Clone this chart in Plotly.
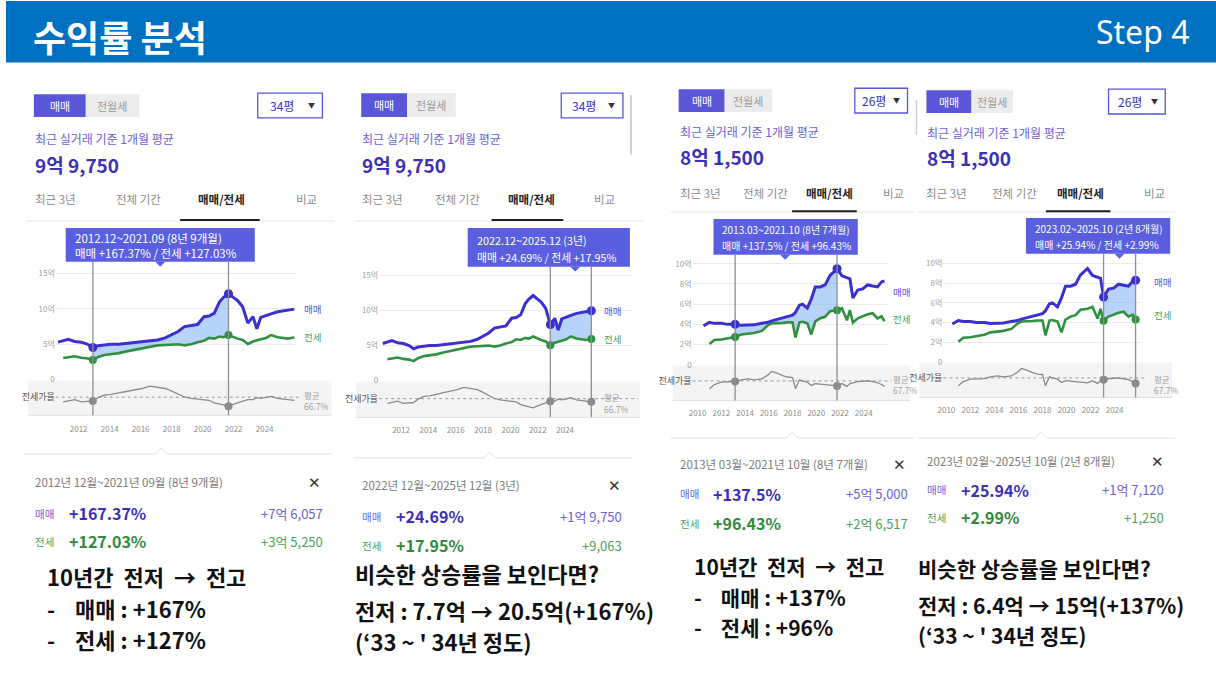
import plotly.graph_objects as go

W, H = 1216, 684
KR = "Noto Sans CJK KR"

# ---------------- data ----------------
dates_34 = ["2010-09", "2011-01", "2011-05", "2011-10", "2012-03", "2012-08", "2012-12", "2013-04",
            "2013-09", "2014-02", "2014-08", "2015-02", "2015-08", "2016-02", "2016-08", "2017-02",
            "2017-08", "2018-01", "2018-06", "2018-11", "2019-04", "2019-09", "2020-02", "2020-06",
            "2020-10", "2021-02", "2021-05", "2021-09", "2022-01", "2022-04", "2022-08", "2022-12",
            "2023-04", "2023-07", "2023-10", "2024-02", "2024-06", "2024-11", "2025-03", "2025-07",
            "2025-12"]
sale_34 = [5.3, 5.5, 5.7, 5.4, 5.3, 5.0, 4.54, 4.8, 4.9, 5.0, 5.0, 5.1, 5.3, 5.3, 5.5, 5.6,
           5.9, 6.3, 6.8, 7.5, 7.6, 7.8, 8.9, 9.0, 9.4, 11.0, 11.6, 12.15, 11.6, 11.2, 10.3, 8.0,
           8.9, 7.2, 8.8, 9.0, 9.3, 9.6, 9.7, 9.8, 9.975]
jeonse_34 = [None, 3.05, 3.2, 3.3, 3.1, 3.0, 2.78, 3.2, 3.5, 3.6, 3.75, 4.0, 4.2, 4.5, 4.7, 4.85,
             4.9, 5.0, 5.0, 4.85, 5.0, 5.3, 5.5, 5.9, 5.8, 6.1, 6.0, 6.3, 6.0, 5.8, 5.6, 5.05,
             5.4, 5.5, 5.7, 5.9, 6.3, 6.0, 5.9, 5.8, 5.95]
ratio_34 = [None, 59.6, 61, 63, 59.6, 60, 61, 66, 70, 71, 73, 75, 77, 80, 83.5, 82,
            80, 76, 72, 67, 65, 64, 63, 62, 58, 56, 54, 53, 56, 58, 61, 63,
            63, 66, 65, 66, 68, 65, 64, 63, 62]

dates_26 = ["2010-01", "2010-07", "2011-01", "2011-06", "2012-01", "2012-07", "2013-03", "2013-09",
            "2014-04", "2014-10", "2015-06", "2015-12", "2016-04", "2016-10", "2017-03", "2017-08",
            "2018-01", "2018-04", "2018-08", "2018-11", "2019-04", "2019-08", "2019-12", "2020-05",
            "2020-10", "2021-03", "2021-10", "2022-03", "2022-08", "2022-11", "2023-02", "2023-07",
            "2023-12", "2024-05", "2024-10", "2025-03", "2025-07", "2025-10"]
sale_26 = [None, 3.85, 4.2, 4.1, 4.1, 4.0, 4.0, 3.9, 3.95, 3.95, 4.1, 4.2, 4.35, 4.5, 4.6, 4.7,
           4.9, 5.2, 5.9, 6.0, 5.6, 6.5, 7.7, 7.7, 7.9, 8.85, 9.5, 8.8, 8.6, 8.5, 6.6, 7.4,
           7.5, 7.9, 7.8, 7.7, 8.2, 8.31]
jeonse_26 = [None, None, 2.05, 2.45, 2.5, 2.6, 2.75, 3.0, 3.1, 3.15, 3.35, 3.9, 4.1, 4.1, 4.15, 4.2,
             4.2, 2.7, 4.2, 4.25, 4.1, 3.0, 4.3, 4.6, 4.75, 5.3, 5.4, 5.6, 4.4, 5.4, 4.18, 4.6,
             4.8, 5.0, 5.1, 4.6, 4.8, 4.31]
ratio_26 = [None, None, 51, 60, 65, 65, 66.4, 70, 72, 70, 72, 80, 88, 84, 79, 76,
            75, 51, 70, 68, 65, 58, 62, 61, 60, 59, 57, 62, 56, 62, 64, 66,
            67, 68, 66, 64, 60, 56]

# tick labels
years_34 = [2012, 2014, 2016, 2018, 2020, 2022, 2024]
years_26 = [2010, 2012, 2014, 2016, 2018, 2020, 2022, 2024]

# panel texts
size_labels = ["34평", "34평", "26평", "26평"]
recent_prices = ["9억 9,750", "9억 9,750", "8억 1,500", "8억 1,500"]
period_starts = ["2012-12", "2022-12", "2013-03", "2023-02"]
period_ends = ["2021-09", "2025-12", "2021-10", "2025-10"]
tip_titles = ["2012.12~2021.09 (8년 9개월)", "2022.12~2025.12 (3년)",
              "2013.03~2021.10 (8년 7개월)", "2023.02~2025.10 (2년 8개월)"]
sale_pct = ["+167.37%", "+24.69%", "+137.5%", "+25.94%"]
jeonse_pct = ["+127.03%", "+17.95%", "+96.43%", "+2.99%"]
sum_titles = ["2012년 12월~2021년 09월 (8년 9개월)", "2022년 12월~2025년 12월 (3년)",
              "2013년 03월~2021년 10월 (8년 7개월)", "2023년 02월~2025년 10월 (2년 8개월)"]
sale_gain = ["+7억 6,057", "+1억 9,750", "+5억 5,000", "+1억 7,120"]
jeonse_gain = ["+3억 5,250", "+9,063", "+2억 6,517", "+1,250"]
avg_ratio = [66.7, 66.7, 67.7, 67.7]

NB = "\u00a0"
SP = NB + " "
notes = [
    ["10년간" + SP + "전저" + SP + "→" + SP + "전고", "-" + NB * 4 + "매매 : +167%", "-" + NB * 4 + "전세 : +127%"],
    ["비슷한 상승률을 보인다면?", "전저 : 7.7억 → 20.5억(+167%)", "(‘33 ~ ' 34년 정도)"],
    ["10년간" + SP + "전저" + SP + "→" + SP + "전고", "-" + NB * 4 + "매매 : +137%", "-" + NB * 4 + "전세 : +96%"],
    ["비슷한 상승률을 보인다면?", "전저 : 6.4억 → 15억(+137%)", "(‘33 ~ ' 34년 정도)"],
]

series = {"34": (dates_34, sale_34, jeonse_34, ratio_34, years_34),
          "26": (dates_26, sale_26, jeonse_26, ratio_26, years_26)}

# ---------------- geometry (pixels) ----------------
P = [
    dict(ds="34", left=28, btn=(28, 94, 80, 117, 134), dd=(253, 93, 318, 118),
         sub_y=139, val_y=165, tab_y=200, tabs=(28, 110, 192, 290), ul=(175, 255, 221), sep=(20, 330),
         dom_x=(50, 292), price_y=(382, 270), prange=[0, 15.7], ptick=[0, 5, 10, 15],
         ratio_y=(383, 418), rrange=[39, 92], xr=["2010-07-10", "2026-01-22"],
         xlab_stand=8, tip=(60, 229, 250, 263, 155), tipfs=11.5,
         lab_x=298, lab_sale=311, lab_jeonse=339, lab_avg=(397, 409),
         sline=(17, 327, 457, 156), sh=485, X=310, r1=517, r2=545, gx=320,
         note_pos=[(40, 580), (40, 612), (40, 644)], note_fs=22),
    dict(ds="34", left=357, btn=(357, 93, 403, 117, 452), dd=(558, 93, 620, 118),
         sub_y=139, val_y=165, tab_y=200, tabs=(357, 430, 503, 590), ul=(488, 560, 221), sep=(350, 640),
         dom_x=(375, 630), price_y=(383, 270), prange=[0, 15.98], ptick=[0, 5, 10, 15],
         ratio_y=(384, 420), rrange=[39, 92], xr=["2010-05-26", "2028-12-15"],
         xlab_stand=7, tip=(464, 229, 627, 268, 572), tipfs=10.8,
         lab_x=600, lab_sale=313, lab_jeonse=341, lab_avg=(400, 412),
         sline=(350, 630, 461, 486), sh=488, X=612, r1=520, r2=549, gx=620,
         note_pos=[(350, 577), (350, 614), (350, 646)], note_fs=22),
    dict(ds="26", left=676, btn=(676, 89, 722, 112, 770), dd=(853, 88, 906, 113),
         sub_y=132, val_y=157, tab_y=194, tabs=(676, 740, 803, 880), ul=(790, 855, 212), sep=(668, 912),
         dom_x=(690, 886), price_y=(367, 258), prange=[0, 10.69], ptick=[0, 2, 4, 6, 8, 10],
         ratio_y=(368, 403), rrange=[26, 100], xr=["2009-07-31", "2026-01-05"],
         xlab_stand=7, tip=(711, 220, 856, 256, 783), tipfs=10,
         lab_x=890, lab_sale=294, lab_jeonse=321, lab_avg=(381, 392),
         sline=(668, 912, 441, 790), sh=467, X=898, r1=497, r2=527, gx=907,
         note_pos=[(690, 570), (690, 601), (690, 632)], note_fs=21),
    dict(ds="26", left=925, btn=(925, 90, 970, 113, 1012), dd=(1108, 89, 1165, 114),
         sub_y=133, val_y=158, tab_y=194, tabs=(924, 990, 1055, 1143), ul=(1045, 1110, 212), sep=(916, 1175),
         dom_x=(942, 1142), price_y=(364, 256), prange=[0, 10.9], ptick=[0, 2, 4, 6, 8, 10],
         ratio_y=(365, 400), rrange=[26, 100], xr=["2009-10-01", "2026-04-25"],
         xlab_stand=7, tip=(1025, 219, 1170, 255, 1119), tipfs=10,
         lab_x=1153, lab_sale=283, lab_jeonse=317, lab_avg=(381, 392),
         sline=(916, 1175, 441, 1040), sh=464, X=1157, r1=493, r2=521, gx=1165,
         note_pos=[(916, 572), (916, 609), (916, 640)], note_fs=21),
]

SALE = "#3b2fd0"
JEON = "#2f9140"
GRAYL = "#8a8a8a"
TIP = "#5a5fe2"
PURP_T = "#6a62d8"
PURP_B = "#3b30b8"
GREEN_T = "#4aa35c"
GREEN_B = "#2f8a40"

fig = go.Figure()


def px_x(x):
    return x / W


def px_y(y):
    return 1 - y / H


def txt(x, y, s, size, color, bold=False, anchor="left", family=KR):
    fig.add_annotation(x=px_x(x), y=px_y(y), xref="paper", yref="paper",
                       text=("<b>%s</b>" % s if bold else s), showarrow=False,
                       xanchor=anchor, yanchor="middle", borderpad=0, align="left",
                       font=dict(size=size, color=color, family=family))


def rect(x0, y0, x1, y1, fill, line=None, lw=0, layer="below"):
    fig.add_shape(type="rect", xref="paper", yref="paper",
                  x0=px_x(x0), x1=px_x(x1), y0=px_y(y0), y1=px_y(y1),
                  fillcolor=fill, line=dict(color=line or fill, width=lw), layer=layer)


def hline(x0, x1, y, color, w=1, dash="solid", layer="below"):
    fig.add_shape(type="line", xref="paper", yref="paper", x0=px_x(x0), x1=px_x(x1),
                  y0=px_y(y), y1=px_y(y), line=dict(color=color, width=w, dash=dash), layer=layer)


# ---------------- header ----------------
rect(0, 0, W, 62, "#0070c0")
txt(26, 35, "수익률 분석", 36, "white", bold=True)
txt(1190, 31, "Step 4", 32, "white", anchor="right", family="Noto Sans")

layout_axes = {}

for k, p in enumerate(P):
    dates, sale, jeonse, ratio, years = series[p["ds"]]
    xa1, xa2 = 2 * k + 1, 2 * k + 2
    xn1 = "x" if xa1 == 1 else "x%d" % xa1
    yn1 = "y" if xa1 == 1 else "y%d" % xa1
    xn2, yn2 = "x%d" % xa2, "y%d" % xa2
    k1 = "" if xa1 == 1 else str(xa1)
    k2 = str(xa2)
    dx = [px_x(p["dom_x"][0]), px_x(p["dom_x"][1])]
    tipfs = p["tipfs"]

    layout_axes["xaxis" + k1] = dict(domain=dx, type="date", range=p["xr"], showticklabels=False,
                                     showgrid=False, zeroline=False, showline=False, anchor=yn1)
    layout_axes["yaxis" + k1] = dict(domain=[px_y(p["price_y"][0]), px_y(p["price_y"][1])],
                                     range=p["prange"], tickvals=p["ptick"],
                                     ticktext=[("%d억" % v if v else "0") for v in p["ptick"]],
                                     showgrid=True, gridcolor="#ebebeb", zeroline=False,
                                     tickfont=dict(size=8, color="#a0a0a0", family=KR), anchor=xn1,
                                     ticks="", showline=False)
    layout_axes["xaxis" + k2] = dict(domain=dx, type="date", range=p["xr"],
                                     tickvals=["%d-01-01" % y for y in years],
                                     ticktext=[str(y) for y in years], showgrid=False, zeroline=False,
                                     showline=False, ticks="", ticklabelstandoff=p["xlab_stand"],
                                     tickfont=dict(size=8, color="#8c8c8c", family=KR), anchor=yn2)
    layout_axes["yaxis" + k2] = dict(domain=[px_y(p["ratio_y"][1]), px_y(p["ratio_y"][0])],
                                     range=p["rrange"], tickvals=[avg_ratio[k]], ticktext=["전세가율"],
                                     showgrid=False, zeroline=False, ticks="",
                                     tickfont=dict(size=9, color="#555", family=KR), anchor=xn2)

    # ---- header widgets ----
    b = p["btn"]
    rect(b[2], b[1], b[4], b[3], "#ececec")
    rect(b[0], b[1], b[2], b[3], "#5b56d8")
    txt((b[0] + b[2]) / 2, (b[1] + b[3]) / 2, "매매", 11, "white", anchor="center")
    txt((b[2] + b[4]) / 2, (b[1] + b[3]) / 2, "전월세", 11, "#9a9a9a", anchor="center")
    d = p["dd"]
    rect(d[0], d[1], d[2], d[3], "white", line="#5b56d8", lw=1.3)
    txt(d[0] + (d[2] - d[0]) * 0.37, (d[1] + d[3]) / 2, size_labels[k], 12, PURP_B, anchor="center")
    txt(d[2] - 11, (d[1] + d[3]) / 2 - 1, "▼", 7, "#333", anchor="center")
    txt(p["left"], p["sub_y"], "최근 실거래 기준 1개월 평균", 12, PURP_T)
    txt(p["left"], p["val_y"], recent_prices[k], 19, PURP_B, bold=True)
    tabs = ["최근 3년", "전체 기간", "매매/전세", "비교"]
    for j, t in enumerate(tabs):
        if j == 2:
            txt(p["tabs"][j], p["tab_y"], t, 11.5, "#222", bold=True)
        else:
            txt(p["tabs"][j], p["tab_y"], t, 11.5, "#8c8c8c")
    hline(p["sep"][0], p["sep"][1], p["ul"][2] + 1, "#e6e6e6", 1)
    hline(p["ul"][0], p["ul"][1], p["ul"][2], "#222", 2)

    # ---- ratio band background ----
    rect(p["sep"][0] + 2, p["ratio_y"][0], p["sep"][1] - 3, p["ratio_y"][1], "#f4f4f4")
    hline(p["sep"][0] + 2, p["sep"][1] - 3, p["ratio_y"][1], "#e0e0e0", 1)
    fig.add_shape(type="line", xref=xn2 + " domain", yref=yn2, x0=0, x1=1.02,
                  y0=avg_ratio[k], y1=avg_ratio[k], line=dict(color="#9a9a9a", width=1, dash="dot"),
                  layer="below")

    # ---- shaded range between sale and jeonse ----
    i0, i1 = dates.index(period_starts[k]), dates.index(period_ends[k])
    sub_d = dates[i0:i1 + 1]
    fig.add_trace(go.Scatter(x=sub_d, y=jeonse[i0:i1 + 1], mode="lines", line=dict(width=0),
                             xaxis=xn1, yaxis=yn1, hoverinfo="skip", showlegend=False))
    fig.add_trace(go.Scatter(x=sub_d, y=sale[i0:i1 + 1], mode="lines", line=dict(width=0),
                             fill="tonexty", fillcolor="rgba(125,175,245,0.55)",
                             xaxis=xn1, yaxis=yn1, hoverinfo="skip", showlegend=False))

    # ---- lines ----
    fig.add_trace(go.Scatter(x=dates, y=jeonse, mode="lines", line=dict(color=JEON, width=2.6),
                             xaxis=xn1, yaxis=yn1, showlegend=False, name="전세"))
    fig.add_trace(go.Scatter(x=dates, y=sale, mode="lines", line=dict(color=SALE, width=3),
                             xaxis=xn1, yaxis=yn1, showlegend=False, name="매매"))
    fig.add_trace(go.Scatter(x=dates, y=ratio, mode="lines", line=dict(color=GRAYL, width=1.3),
                             xaxis=xn2, yaxis=yn2, showlegend=False, name="전세가율"))

    # ---- range vertical lines ----
    tp = p["tip"]
    for dd in (period_starts[k], period_ends[k]):
        fig.add_shape(type="line", xref=xn1, yref="paper", x0=dd, x1=dd,
                      y0=px_y(tp[3]), y1=px_y(p["ratio_y"][1]),
                      line=dict(color="#8f8f8f", width=1.3), layer="above")

    # ---- markers ----
    md = [dates[i0], dates[i1]]
    fig.add_trace(go.Scatter(x=md, y=[jeonse[i0], jeonse[i1]], mode="markers",
                             marker=dict(color=JEON, size=8), xaxis=xn1, yaxis=yn1, showlegend=False))
    fig.add_trace(go.Scatter(x=md, y=[sale[i0], sale[i1]], mode="markers",
                             marker=dict(color=SALE, size=9), xaxis=xn1, yaxis=yn1, showlegend=False))
    fig.add_trace(go.Scatter(x=md, y=[ratio[i0], ratio[i1]], mode="markers",
                             marker=dict(color="#8a8a8a", size=8), xaxis=xn2, yaxis=yn2, showlegend=False))

    # ---- tooltip ----
    rect(tp[0], tp[1], tp[2], tp[3], TIP, layer="above")
    fig.add_shape(type="path", xref="paper", yref="paper", layer="above",
                  path="M %f %f L %f %f L %f %f Z" % (px_x(tp[4] - 5), px_y(tp[3]), px_x(tp[4]),
                                                      px_y(tp[3] + 5), px_x(tp[4] + 5), px_y(tp[3])),
                  fillcolor=TIP, line=dict(width=0))
    hgt = tp[3] - tp[1]
    txt(tp[0] + 8, tp[1] + hgt * 0.3, tip_titles[k], tipfs, "white")
    txt(tp[0] + 8, tp[1] + hgt * 0.74,
        "매매 %s / 전세 %s" % (sale_pct[k], jeonse_pct[k]), tipfs, "white")

    # ---- right labels ----
    txt(p["lab_x"], p["lab_sale"], "매매", 9.5, "#5b56d8")
    txt(p["lab_x"], p["lab_jeonse"], "전세", 9.5, GREEN_T)
    txt(p["lab_x"], p["lab_avg"][0], "평균", 8.5, "#a0a0a0")
    txt(p["lab_x"], p["lab_avg"][1], "%.1f%%" % avg_ratio[k], 8.5, "#a0a0a0")

    # ---- summary box ----
    sl = p["sline"]
    fig.add_shape(type="path", xref="paper", yref="paper", layer="below",
                  path="M %f %f L %f %f L %f %f L %f %f L %f %f" % (
                      px_x(sl[0]), px_y(sl[2]), px_x(sl[3] - 6), px_y(sl[2]), px_x(sl[3]), px_y(sl[2] - 6),
                      px_x(sl[3] + 6), px_y(sl[2]), px_x(sl[1]), px_y(sl[2])),
                  line=dict(color="#e2e2e2", width=1))
    txt(p["left"], p["sh"], sum_titles[k], 11.5, "#7a7a7a")
    txt(p["X"], p["sh"], "✕", 15, "#333", anchor="center")
    txt(p["left"], p["r1"], "매매", 10.5, PURP_T)
    txt(p["left"] + 34, p["r1"], sale_pct[k], 16, PURP_B, bold=True)
    txt(p["gx"], p["r1"], sale_gain[k], 13, PURP_T, anchor="right")
    txt(p["left"], p["r2"], "전세", 10.5, GREEN_T)
    txt(p["left"] + 34, p["r2"], jeonse_pct[k], 16, GREEN_B, bold=True)
    txt(p["gx"], p["r2"], jeonse_gain[k], 13, GREEN_T, anchor="right")

    for s, (x, y) in zip(notes[k], p["note_pos"]):
        txt(x, y, s, p["note_fs"], "#111", bold=True)

# dividers
fig.add_shape(type="line", xref="paper", yref="paper", x0=px_x(628), x1=px_x(628),
              y0=px_y(95), y1=px_y(155), line=dict(color="#cfcfcf", width=2))
fig.add_shape(type="line", xref="paper", yref="paper", x0=px_x(915), x1=px_x(915),
              y0=px_y(100), y1=px_y(135), line=dict(color="#cfcfcf", width=1.5))

fig.update_layout(width=W, height=H, margin=dict(l=0, r=0, t=0, b=0),
                  paper_bgcolor="white", plot_bgcolor="rgba(0,0,0,0)", showlegend=False,
                  font=dict(family=KR), **layout_axes)

fig.write_html(
    "out.html",
    config={"displayModeBar": False},
    post_script=("document.documentElement.style.margin='0';document.documentElement.style.padding='0';"
                 "document.documentElement.style.overflow='hidden';"
                 "document.body.style.margin='0';document.body.style.padding='0';"
                 "document.body.style.overflow='hidden';"
                 "var g=document.getElementById('{plot_id}');g.style.position='absolute';"
                 "g.style.left='0px';g.style.top='0px';"),
)
